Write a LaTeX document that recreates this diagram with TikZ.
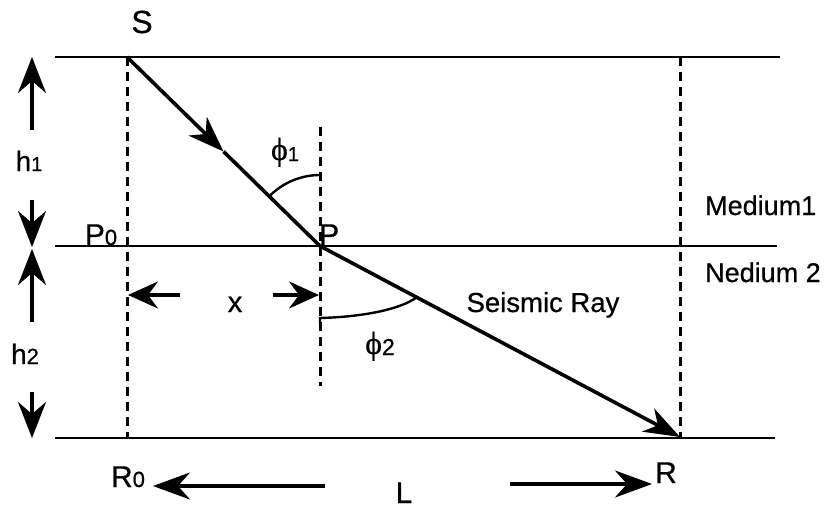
\documentclass[tikz,border=0pt]{standalone}
\usepackage{fontspec}
\setmainfont{Liberation Sans}[FakeBold=0.6]
\newfontfamily\grk{Liberation Serif}[FakeBold=0.6]
\usetikzlibrary{arrows.meta,calc}
\tikzset{
  bigtip/.tip={Stealth[length=36pt,width=28pt,inset=12pt]},
  raytip/.tip={Stealth[length=36pt,width=26pt,inset=11pt]},
  layer/.style={line width=2.8pt},
  guide/.style={line width=3pt,dash pattern=on 9pt off 6pt},
  ray/.style={line width=3.6pt},
  dim/.style={line width=3.4pt,-bigtip},
  lbl/.style={inner sep=0pt,anchor=base},
}
\newcommand{\phisym}[2]{{\fontsize{32}{34}\selectfont\grk ϕ}\raisebox{-1pt}{\fontsize{#2}{20}\selectfont #1}}
\begin{document}
\begin{tikzpicture}[x=1pt,y=-1pt]
\useasboundingbox (0,0) rectangle (829,509);
% key points
\coordinate (S) at (127,57);
\coordinate (P) at (320,246);
\coordinate (R) at (680,437);
\coordinate (Pzero) at (127,246);
\coordinate (Rzero) at (127,437);
\coordinate (Ltop) at (55,57);   \coordinate (Rtop) at (780,57);
\coordinate (Lmid) at (55,246);  \coordinate (Rmid) at (777,246);
\coordinate (Lbot) at (55,438);  \coordinate (Rbot) at (775,438);
\coordinate (Ptop) at (320,127); \coordinate (Pbot) at (320,386);
\coordinate (Rtopd) at (680,57);
% layers
\draw[layer] (Ltop) -- (Rtop);
\draw[layer] (Lmid) -- (Rmid);
\draw[layer] (Lbot) -- (Rbot);
% verticals
\draw[guide] (S) -- (Rzero);
\draw[guide] (Ptop) -- (Pbot);
\draw[guide] (Rtopd) -- (R);
% ray
\coordinate (M) at ($(S)!0.5!(P)$);
\draw[ray,-raytip] (S) -- (M);
\draw[ray] (M) -- (P);
\draw[ray,-raytip] (P) -- (R);
% angles
\draw[line width=2.4pt] (320,175) arc[start angle=-90,end angle=-135.6,radius=71];
\draw[line width=2.4pt] (320,324) -- (320,318) .. controls (360,317) and (400,310) .. (417,297);
% h arrows
\coordinate (hAa) at (32,130); \coordinate (hAb) at (32,57);
\coordinate (hBa) at (32,200); \coordinate (hBb) at (32,247);
\coordinate (hCa) at (32,322); \coordinate (hCb) at (32,249);
\coordinate (hDa) at (32,392); \coordinate (hDb) at (32,438);
\draw[dim] (hAa) -- (hAb);
\draw[dim] (hBa) -- (hBb);
\draw[dim] (hCa) -- (hCb);
\draw[dim] (hDa) -- (hDb);
% x arrows
\coordinate (xAa) at (180,295); \coordinate (xAb) at (128,295);
\coordinate (xBa) at (273,295); \coordinate (xBb) at (319,295);
\draw[dim,-{Stealth[length=30pt,width=27pt,inset=10pt]}] (xAa) -- (xAb);
\draw[dim,-{Stealth[length=30pt,width=27pt,inset=10pt]}] (xBa) -- (xBb);
% L arrows
\coordinate (LAa) at (325,486); \coordinate (LAb) at (153,486);
\coordinate (LBa) at (510,484); \coordinate (LBb) at (652,484);
\draw[dim,-{Stealth[length=37pt,width=27pt,inset=12pt]}] (LAa) -- (LAb);
\draw[dim,-{Stealth[length=37pt,width=27pt,inset=12pt]}] (LBa) -- (LBb);
% labels
\node[lbl,font=\fontsize{32}{34}\selectfont] (tS) at (142,33) {S};
\node[lbl,anchor=base west,font=\fontsize{30}{32}\selectfont] (tP) at (319,245) {P};
\node[lbl,font=\fontsize{30}{32}\selectfont] (tPz) at (101,245) {P{\fontsize{22}{24}\selectfont 0}};
\node[lbl,font=\fontsize{30}{32}\selectfont] (tRz) at (128,487) {R{\fontsize{22}{24}\selectfont 0}};
\node[lbl,anchor=base west,font=\fontsize{30}{32}\selectfont] (tR) at (655,483) {R};
\node[lbl,font=\fontsize{30}{32}\selectfont] (tL) at (404,503) {L};
\node[lbl,font=\fontsize{29}{31}\selectfont] (tx) at (235,312) {x};
\node[lbl,font=\fontsize{28}{30}\selectfont] (th1) at (29,171) {h{\fontsize{20}{22}\selectfont 1}};
\node[lbl,font=\fontsize{28}{30}\selectfont] (th2) at (25,364) {h{\fontsize{22}{24}\selectfont 2}};
\node[lbl] (tphi1) at (285,160) {\phisym{1}{20}};
\node[lbl] (tphi2) at (380,354) {\phisym{2}{23}};
\node[lbl,font=\fontsize{27.5}{30}\selectfont] (tray) at (543,312) {Seismic Ray};
\node[lbl,anchor=base west,font=\fontsize{27}{29}\selectfont] (tm1) at (705,215) {Medium1};
\node[lbl,anchor=base west,font=\fontsize{27}{29}\selectfont] (tm2) at (705,282) {Nedium 2};
\end{tikzpicture}
\end{document}
